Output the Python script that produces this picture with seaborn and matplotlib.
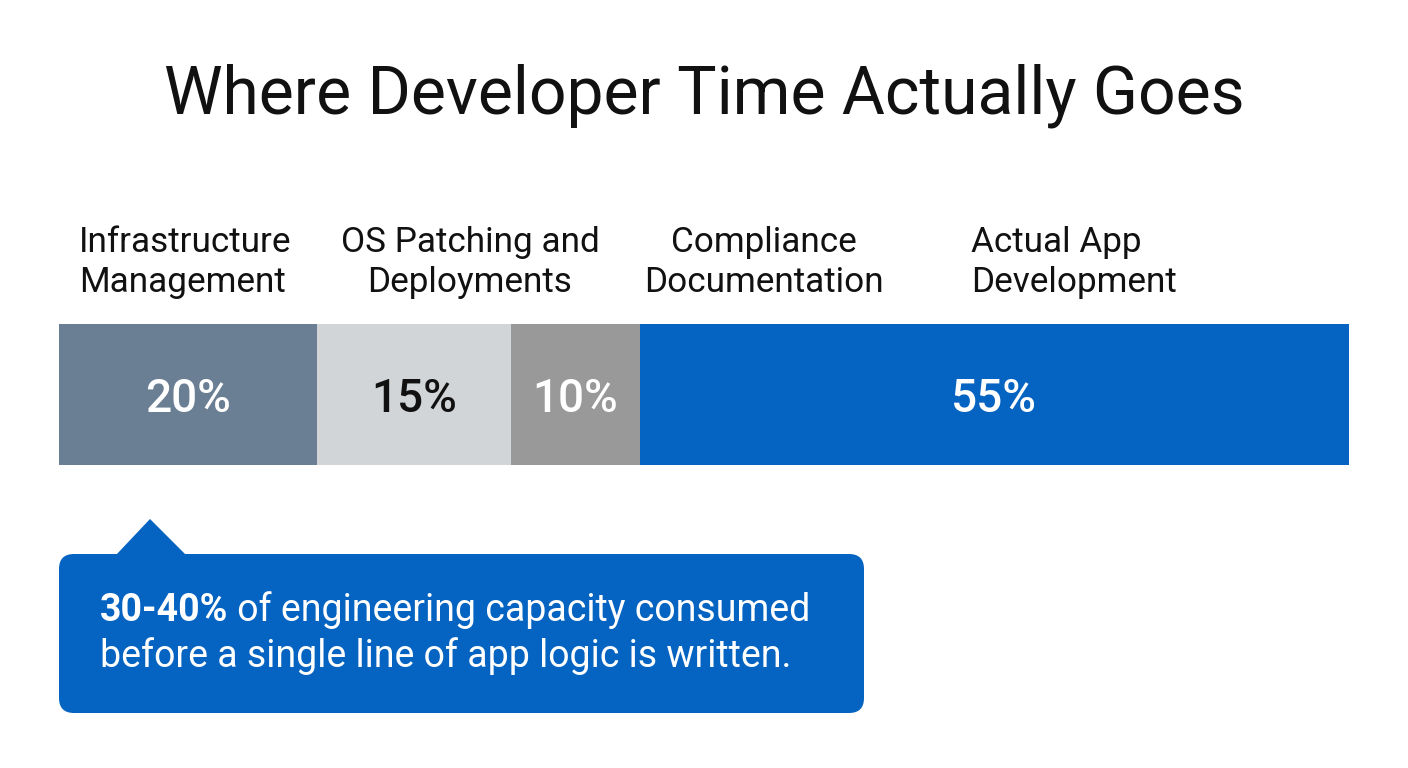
import numpy as np
import pandas as pd
import seaborn as sns
import matplotlib.pyplot as plt
from matplotlib.patches import FancyBboxPatch, Polygon

categories = ["Infrastructure\nManagement", "OS Patching and\nDeployments",
              "Compliance\nDocumentation", "Actual App\nDevelopment"]
shares = [20, 15, 10, 55]
seg_colors = ["#6a7f93", "#d1d5d7", "#999999", "#0563c1"]
value_colors = ["white", "#111111", "white", "white"]

title = "Where Developer Time Actually Goes"
callout_bold = "30-40%"
callout_rest = " of engineering capacity consumed"
callout_line2 = "before a single line of app logic is written."

sns.set_style("white")
plt.rcParams["font.family"] = ["Roboto", "DejaVu Sans"]

W, H = 1408, 768
fig = plt.figure(figsize=(W / 100, H / 100), dpi=100)

# background axes in pixel coordinates for the free text and callout
bg = fig.add_axes([0, 0, 1, 1])
bg.set_xlim(0, W)
bg.set_ylim(H, 0)
bg.axis("off")

# stacked bar axes
ax = fig.add_axes([59 / W, (H - 465) / H, 1290 / W, 141 / H])
df = pd.DataFrame({"cat": categories, "share": shares})
df["cum"] = df["share"].cumsum()
df["start"] = df["cum"] - df["share"]

# draw cumulative bars from the longest down so each segment shows
for i in reversed(range(len(df))):
    sns.barplot(x=[df["cum"][i]], y=["time"], orient="h", color=seg_colors[i],
                width=1.0, saturation=1, ax=ax, linewidth=0)
ax.set_xlim(0, 100)
ax.set_ylim(0.5, -0.5)
ax.axis("off")

for i, row in df.iterrows():
    ax.text(row["start"] + row["share"] / 2, 0.0, f"{row['share']}%",
            ha="center", va="center_baseline", fontsize=33, fontweight="medium",
            color=value_colors[i])

bg.text(W / 2, 114, title, ha="center", va="baseline",
        fontsize=47.5, color="#111111")

# category labels above the bar, one line at a time
label_x = [79, 470, 764, 971]
label_ha = ["left", "center", "center", "left"]
for lab, x, ha in zip(categories, label_x, label_ha):
    for k, line in enumerate(lab.split("\n")):
        bg.text(x, 252 + 40 * k, line, ha=ha, va="baseline",
                fontsize=25.3, color="#111111")

# callout box with pointer
box = FancyBboxPatch((59, 554), 805, 159, boxstyle="round,pad=0,rounding_size=15",
                     fc="#0563c1", ec="none")
bg.add_patch(box)
bg.add_patch(Polygon([(116, 555), (150, 519), (186, 555)], closed=True,
                     fc="#0563c1", ec="none"))

t1 = bg.text(100, 621, callout_bold, ha="left", va="baseline",
             fontsize=27, fontweight="bold", color="white")
bg.annotate(callout_rest, xy=(1, 0), xycoords=t1, ha="left", va="bottom",
            fontsize=27, color="white")
bg.text(100, 667, callout_line2, ha="left", va="baseline",
        fontsize=27, color="white")

fig.savefig("out.png", dpi=100, facecolor="white")
